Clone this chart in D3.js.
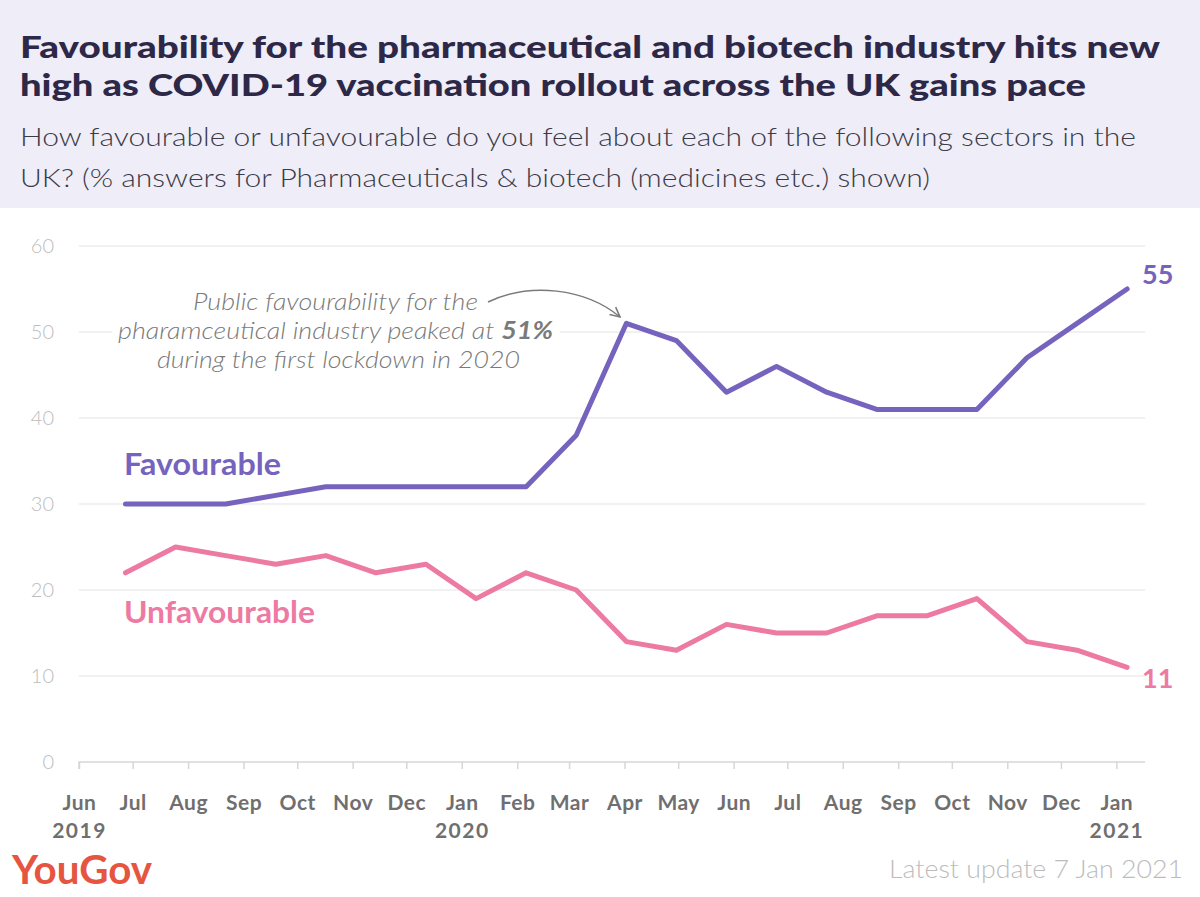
<!DOCTYPE html>
<html>
<head>
<meta charset="utf-8">
<script src="https://cdn.jsdelivr.net/npm/d3@7"></script>
<style>
  html, body { margin: 0; padding: 0; background: #fff; }
  svg { display: block; }
</style>
</head>
<body>
<svg id="chart" width="1200" height="897"></svg>
<script>
// ---- data ----
const surveyDates = [
  "2019-06-27","2019-07-25","2019-08-22","2019-09-19","2019-10-17","2019-11-14",
  "2019-12-12","2020-01-09","2020-02-06","2020-03-05","2020-04-02","2020-04-30",
  "2020-05-28","2020-06-25","2020-07-23","2020-08-20","2020-09-17","2020-10-15",
  "2020-11-12","2020-12-10","2021-01-07"
];
const favourable   = [30,30,30,31,32,32,32,32,32,38,51,49,43,46,43,41,41,41,47,51,55];
const unfavourable = [22,25,24,23,24,22,23,19,22,20,14,13,16,15,15,17,17,19,14,13,11];
const yTicks = [0,10,20,30,40,50,60];
const monthTicks = [
  "2019-06-01","2019-07-01","2019-08-01","2019-09-01","2019-10-01","2019-11-01","2019-12-01",
  "2020-01-01","2020-02-01","2020-03-01","2020-04-01","2020-05-01","2020-06-01","2020-07-01",
  "2020-08-01","2020-09-01","2020-10-01","2020-11-01","2020-12-01","2021-01-01"
];
const monthLabels = ["Jun","Jul","Aug","Sep","Oct","Nov","Dec","Jan","Feb","Mar","Apr","May",
  "Jun","Jul","Aug","Sep","Oct","Nov","Dec","Jan"];
const yearLabels = {"2019-06-01":"2019","2020-01-01":"2020","2021-01-01":"2021"};
const titleLines = [
  "Favourability for the pharmaceutical and biotech industry hits new",
  "high as COVID-19 vaccination rollout across the UK gains pace"
];
const subtitleLines = [
  "How favourable or unfavourable do you feel about each of the following sectors in the",
  "UK? (% answers for Pharmaceuticals & biotech (medicines etc.) shown)"
];

// ---- setup ----
const parse = d3.utcParse("%Y-%m-%d");
const svg = d3.select("#chart");
const W = 1200, H = 897;
const colFav = "#7563be", colUnf = "#ed7aa2";
const font = "Lato, 'Open Sans', sans-serif";

// header band
svg.append("rect").attr("x",0).attr("y",0).attr("width",W).attr("height",208).attr("fill","#efedf7");

const titleWidths = [1140, 1066];
titleLines.forEach((t,i) => {
  svg.append("text").attr("x",20).attr("y",58 + i*38)
    .attr("font-family",font).attr("font-weight",900).attr("font-size",31)
    .attr("fill","#2d2848")
    .attr("textLength",titleWidths[i]).attr("lengthAdjust","spacingAndGlyphs")
    .text(t);
});
const subWidths = [1116, 910];
subtitleLines.forEach((t,i) => {
  svg.append("text").attr("x",20).attr("y",146 + i*41)
    .attr("font-family",font).attr("font-weight",300).attr("font-size",25)
    .attr("fill","#3b3b48")
    .attr("textLength",subWidths[i]).attr("lengthAdjust","spacingAndGlyphs")
    .text(t);
});

// scales
const x = d3.scaleUtc()
  .domain([parse("2019-06-01"), parse("2021-01-17")])
  .range([79, 1145]);
const y = d3.scaleLinear().domain([0,60]).range([762,246]);

// gridlines
svg.append("g").selectAll("line").data(yTicks.filter(d=>d>0)).join("line")
  .attr("x1",79).attr("x2",1145)
  .attr("y1",d=>y(d)).attr("y2",d=>y(d))
  .attr("stroke","#ececec").attr("stroke-width",1.5);

// y axis labels
svg.append("g").selectAll("text").data(yTicks).join("text")
  .attr("x",54).attr("y",d=>y(d)).attr("dy","0.35em")
  .attr("text-anchor","end")
  .attr("font-family",font).attr("font-size",20).attr("font-weight",300).attr("fill","#bdbdbd")
  .text(d=>d);

// x axis
const xAxis = d3.axisBottom(x)
  .tickValues(monthTicks.map(parse))
  .tickSize(7)
  .tickFormat((d,i)=>monthLabels[i]);
const gx = svg.append("g").attr("transform","translate(0,762)").call(xAxis);
gx.select(".domain").attr("stroke","#d6d6d6").attr("stroke-width",1.5)
  .attr("d", `M${x.range()[0]},7V0H${x.range()[1]}`);
gx.selectAll(".tick line").attr("stroke","#d6d6d6").attr("stroke-width",1.5);
gx.selectAll(".tick text")
  .attr("y",null).attr("dy",null)
  .attr("transform","translate(0,48)")
  .attr("font-family",font).attr("font-weight",700).attr("font-size",21)
  .attr("letter-spacing",0.5)
  .attr("fill","#6f6f6f");
gx.selectAll(".tick").each(function(d){
  const key = d3.utcFormat("%Y-%m-%d")(d);
  if (yearLabels[key]) {
    d3.select(this).append("text")
      .attr("y",76).attr("text-anchor","middle")
      .attr("font-family",font).attr("font-weight",700).attr("font-size",21)
      .attr("letter-spacing",1.5)
      .attr("fill","#6f6f6f").text(yearLabels[key]);
  }
});

// annotation (drawn before lines so lines overlay)
const ann = svg.append("g").attr("font-family",font).attr("font-style","italic")
  .attr("font-size",24).attr("fill","#7a7a7a").attr("font-weight",300);
ann.append("rect").attr("x",112).attr("y",315).attr("width",448).attr("height",28).attr("fill","#fff");
ann.append("text").attr("x",193).attr("y",310)
  .attr("textLength",285).attr("lengthAdjust","spacingAndGlyphs")
  .text("Public favourability for the");
const l2 = ann.append("text").attr("x",118).attr("y",339)
  .attr("textLength",435).attr("lengthAdjust","spacingAndGlyphs");
l2.append("tspan").text("pharamceutical industry peaked at ");
l2.append("tspan").attr("font-weight",700).text("51%");
ann.append("text").attr("x",157).attr("y",368)
  .attr("textLength",363).attr("lengthAdjust","spacingAndGlyphs")
  .text("during the first lockdown in 2020");

svg.append("defs").append("marker").attr("id","arr")
  .attr("viewBox","0 0 10 10").attr("refX",9).attr("refY",5)
  .attr("markerWidth",12).attr("markerHeight",12).attr("markerUnits","userSpaceOnUse")
  .attr("orient","auto")
  .append("path").attr("d","M1,1 L9,5 L1,9").attr("fill","none")
  .attr("stroke","#7a7a7a").attr("stroke-width",1.3);
svg.append("path")
  .attr("d","M488,302 C530,282 585,288 620,317")
  .attr("fill","none").attr("stroke","#7a7a7a").attr("stroke-width",1.5)
  .attr("marker-end","url(#arr)");

// lines
const line = d3.line().x((d,i)=>x(parse(surveyDates[i]))).y(d=>y(d));
[[favourable,colFav],[unfavourable,colUnf]].forEach(([vals,c])=>{
  svg.append("path").datum(vals).attr("d",line)
    .attr("fill","none").attr("stroke",c).attr("stroke-width",5)
    .attr("stroke-linejoin","round").attr("stroke-linecap","round");
});

// series labels
svg.append("text").attr("x",124).attr("y",475)
  .attr("font-family",font).attr("font-weight",700).attr("font-size",30)
  .attr("textLength",157).attr("lengthAdjust","spacingAndGlyphs")
  .attr("fill",colFav).text("Favourable");
svg.append("text").attr("x",124).attr("y",623)
  .attr("font-family",font).attr("font-weight",700).attr("font-size",30)
  .attr("textLength",191).attr("lengthAdjust","spacingAndGlyphs")
  .attr("fill",colUnf).text("Unfavourable");

// end labels
const lastDate = parse(surveyDates[surveyDates.length-1]);
svg.append("text").attr("x",x(lastDate)+15).attr("y",y(favourable[favourable.length-1])-5)
  .attr("font-family",font).attr("font-weight",700).attr("font-size",27)
  .attr("fill",colFav).text(favourable[favourable.length-1]);
svg.append("text").attr("x",x(lastDate)+15).attr("y",y(unfavourable[unfavourable.length-1])+21)
  .attr("font-family",font).attr("font-weight",700).attr("font-size",27)
  .attr("fill",colUnf).text(unfavourable[unfavourable.length-1]);

// footer
svg.append("text").attr("x",12).attr("y",884)
  .attr("font-family",font).attr("font-weight",700).attr("font-size",40)
  .attr("textLength",140).attr("lengthAdjust","spacingAndGlyphs")
  .attr("fill","#e5553f").text("YouGov");
svg.append("text").attr("x",889).attr("y",878)
  .attr("font-family",font).attr("font-weight",300).attr("font-size",25)
  .attr("textLength",294).attr("lengthAdjust","spacingAndGlyphs")
  .attr("fill","#bcbcbc").text("Latest update 7 Jan 2021");
</script>
</body>
</html>
